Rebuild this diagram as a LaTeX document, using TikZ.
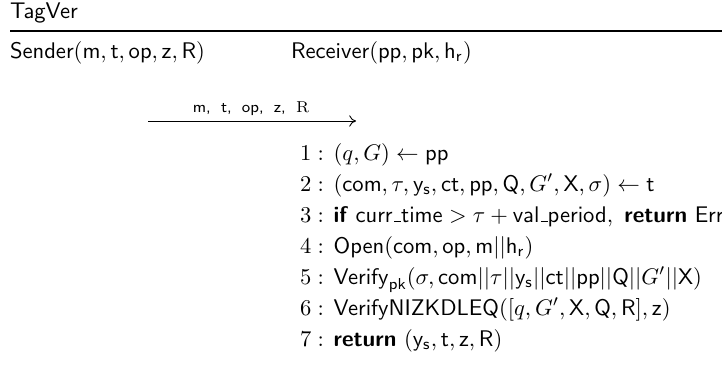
\documentclass[tikz,border=0pt]{standalone}
\usepackage{amsmath}
\usetikzlibrary{arrows.meta}
\newcommand{\msf}[1]{\mathsf{#1}}
\newcommand{\usc}{\kern.06em\vbox{\hrule width.3em}}
\newcommand{\lnum}[1]{$#1:$\hspace{1pt} }
\begin{document}
\begin{tikzpicture}[x=0.4425pt,y=-0.4425pt,
  txt/.style={anchor=base west,inner sep=0pt,outer sep=0pt,font=\fontsize{10}{12}\selectfont},
  lbl/.style={anchor=base,inner sep=0pt,font=\fontsize{7}{8}\selectfont},
  msg/.style={line width=0.4pt,-{To[length=3pt,width=5pt]}},
  hdrule/.style={line width=0.8pt}]
\useasboundingbox (0,0) rectangle (722,374);
\node[txt] (title) at (10,18) {\textsf{TagVer}};
\coordinate (rl) at (10,31);
\coordinate (rr) at (722,31);
\draw[hdrule] (rl) -- (rr);
\node[txt] (sender) at (10,58) {\textsf{Sender}$(\msf{m}, \msf{t}, \msf{op}, \msf{z}, \msf{R})$};
\node[txt] (receiver) at (291,58) {\textsf{Receiver}$(\msf{pp}, \msf{pk}, \msf{h}_\msf{r})$};
\coordinate (a1) at (148,121);
\coordinate (a2) at (356,121);
\draw[msg] (a1) -- (a2);
\node[lbl] (msglbl) at (251,112) {\textsf{m,\hspace{4.5pt}t,\hspace{4.5pt}op,\hspace{4.5pt}z,}\hspace{4.5pt}$\mathrm{R}$};
\node[txt] (l1) at (300,160) {\lnum{1}$(q, G) \gets \msf{pp}$};
\node[txt] (l2) at (300,191) {\lnum{2}$(\msf{com}, \tau, \msf{y}_\msf{s}, \msf{ct}, \msf{pp}, \msf{Q}, G', \msf{X}, \sigma) \gets \msf{t}$};
\node[txt] (l3) at (300,222) {\lnum{3}$\textsf{\textbf{if}}\ \msf{curr\usc time} > \tau + \msf{val\usc period},\ \textsf{\textbf{return}}\ \msf{Err}$};
\node[txt] (l4) at (300,253) {\lnum{4}$\msf{Open}(\msf{com}, \msf{op}, \msf{m}||\msf{h}_\msf{r})$};
\node[txt] (l5) at (300,284) {\lnum{5}$\msf{Verify}_{\msf{pk}}(\sigma, \msf{com}||\tau||\msf{y}_\msf{s}||\msf{ct}||\msf{pp}||\msf{Q}||G'||\msf{X})$};
\node[txt] (l6) at (300,315) {\lnum{6}$\msf{VerifyNIZKDLEQ}([q, G', \msf{X}, \msf{Q}, \msf{R}], \msf{z})$};
\node[txt] (l7) at (300,346) {\lnum{7}$\textsf{\textbf{return}}\ (\msf{y}_\msf{s}, \msf{t}, \msf{z}, \msf{R})$};
\end{tikzpicture}
\end{document}
